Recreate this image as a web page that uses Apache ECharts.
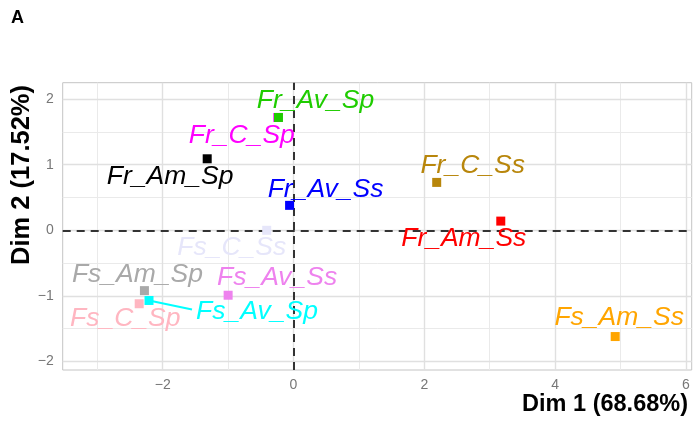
<!DOCTYPE html>
<html>
<head>
<meta charset="utf-8">
<script src="https://cdn.jsdelivr.net/npm/echarts@6/dist/echarts.min.js"></script>
<style>html,body{margin:0;padding:0;background:#fff}#c{width:693px;height:425px}</style>
</head>
<body>
<div id="c"></div>
<script>
// ---- data ----
const labels = ['Fr_C_Sp','Fr_Av_Sp','Fr_Am_Sp','Fr_Av_Ss','Fs_C_Ss','Fs_Am_Sp','Fs_C_Sp','Fs_Av_Sp','Fs_Av_Ss','Fr_C_Ss','Fr_Am_Ss','Fs_Am_Ss'];
const dim1 = [-0.24, -0.23, -1.32, -0.06, -0.41, -2.28, -2.36, -2.21, -1.00, 2.19, 3.17, 4.92];
const dim2 = [ 1.72,  1.72,  1.09,  0.38,  0.00, -0.92, -1.12, -1.07, -0.99, 0.73, 0.14, -1.62];
const xTicks = [-2, 0, 2, 4, 6];
const yTicks = [-2, -1, 0, 1, 2];
const xMinor = [-3, -1, 1, 3, 5];
const yMinor = [-1.5, -0.5, 0.5, 1.5];
const xTitle = 'Dim 1 (68.68%)';
const yTitle = 'Dim 2 (17.52%)';
const panelTag = 'A';

// ---- styles ----
const colors = ['#FF00FF','#1FCC00','#000000','#0000FF','#E6E6FA','#A9A9A9','#FFB6C1','#00FFFF','#EE82EE','#B8860B','#FF0000','#FFA500'];
const labelOffsets = [[-36,18],[37,-17],[-37,18],[36,-16],[-35,17],[-7,-16],[-14,15],[108,11],[49,-18],[36,-17],[-37,18],[4,-19]];
const segIndex = 7;            // Fs_Av_Sp has a repel segment
const segOffset = [43, 9];

const FONT = '"Liberation Sans", Arial, sans-serif';
const fmt = v => (v < 0 ? '\u2212' + Math.abs(v) : String(v));

const chart = echarts.init(document.getElementById('c'), null, {renderer: 'canvas'});

const gridLine = (vals, key, color, w) => vals.map(v => ({[key]: v, lineStyle: {color: color, width: w, type: 'solid'}}));

const option = {
  animation: false,
  backgroundColor: '#fff',
  grid: {left: 62.7, right: 1.3, top: 82.7, bottom: 55, show: true, borderColor: '#c4c4c4', borderWidth: 1, backgroundColor: 'transparent'},
  xAxis: {
    type: 'value', min: -3.53, max: 6.09,
    axisLine: {show: false},
    splitLine: {show: false},
    axisTick: {show: true, length: 5, lineStyle: {color: '#b3b3b3'}, customValues: xTicks},
    axisLabel: {customValues: xTicks, formatter: fmt, color: '#777', fontSize: 14, fontFamily: FONT, margin: 8}
  },
  yAxis: {
    type: 'value', min: -2.13, max: 2.25,
    axisLine: {show: false},
    splitLine: {show: false},
    axisTick: {show: true, length: 5, lineStyle: {color: '#b3b3b3'}, customValues: yTicks},
    axisLabel: {customValues: yTicks, formatter: fmt, color: '#777', fontSize: 14, fontFamily: FONT, margin: 9}
  },
  graphic: [
    {type: 'text', left: 11, top: 9, style: {text: panelTag, font: 'bold 18px ' + FONT, fill: '#000'}},
    {type: 'text', x: 688, y: 405, style: {text: xTitle, font: 'bold 23.5px ' + FONT, fill: '#000', align: 'right', verticalAlign: 'middle'}},
    {type: 'text', x: 22, y: 175, rotation: Math.PI / 2, style: {text: yTitle, font: 'bold 25.5px ' + FONT, fill: '#000', align: 'center', verticalAlign: 'middle'}}
  ],
  series: [
    {
      type: 'scatter', data: [], z: 1, silent: true,
      markLine: {
        z: 1, silent: true, symbol: ['none', 'none'], label: {show: false}, animation: false,
        data: [].concat(
          gridLine(xMinor, 'xAxis', '#eaeaea', 1),
          gridLine(yMinor, 'yAxis', '#eaeaea', 1),
          gridLine(xTicks, 'xAxis', '#e0e0e0', 1.4),
          gridLine(yTicks, 'yAxis', '#e0e0e0', 1.4)
        )
      }
    },
    {
      type: 'scatter', data: [], z: 2, silent: true,
      markLine: {
        z: 2, silent: true, symbol: ['none', 'none'], label: {show: false}, animation: false,
        data: [
          {xAxis: 0, lineStyle: {color: '#333', width: 2, type: [8, 6]}},
          {yAxis: 0, lineStyle: {color: '#333', width: 2, type: [8, 6]}}
        ]
      }
    },
    {
      type: 'custom', z: 3, silent: true,
      data: [[dim1[segIndex], dim2[segIndex]]],
      renderItem: function (params, api) {
        const p = api.coord([api.value(0), api.value(1)]);
        return {type: 'line', shape: {x1: p[0], y1: p[1], x2: p[0] + segOffset[0], y2: p[1] + segOffset[1]},
          style: {stroke: colors[segIndex], lineWidth: 2}};
      }
    },
    {
      type: 'scatter', z: 4, symbol: 'rect', symbolSize: 9, silent: true,
      emphasis: {disabled: true},
      data: labels.map((n, i) => ({
        name: n, value: [dim1[i], dim2[i]],
        itemStyle: {color: colors[i], opacity: 1},
        label: {show: true, position: 'inside', offset: labelOffsets[i], formatter: n, color: colors[i], opacity: 1,
          fontSize: 26.5, fontStyle: 'italic', fontFamily: FONT}
      }))
    }
  ]
};
chart.setOption(option);
</script>
</body>
</html>
